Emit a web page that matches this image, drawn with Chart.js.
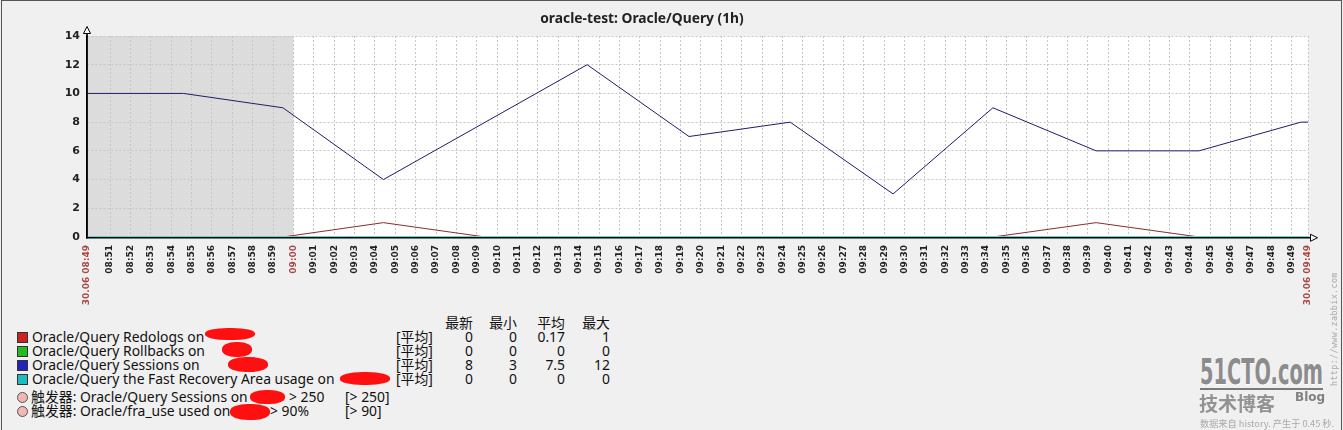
<!DOCTYPE html>
<html>
<head>
<meta charset="utf-8">
<script src="https://cdn.jsdelivr.net/npm/chart.js@4/dist/chart.umd.min.js"></script>
<style>
  body { margin: 0; background: #f0f0f0; }
  #wrap { position: relative; width: 1343px; height: 430px; overflow: hidden; background: #f0f0f0;
          font-family: "Noto Sans", "Noto Sans CJK SC", sans-serif; color: #111; }
  #frame { position: absolute; left: 1px; top: 0; width: 1339px; height: 440px; border: 1px solid #555; }
  #c { position: absolute; left: 0; top: 0; }
  .title { position: absolute; top: 8px; left: 0; width: 1284px; text-align: center; font-weight: bold; font-size: 13.8px; color: #222; }
  .row { position: absolute; height: 16px; line-height: 16px; font-size: 13.9px; white-space: nowrap; }
  .num { text-align: right; }
  .sq { position: absolute; width: 9px; height: 9px; border: 1px solid #333; }
  .dot { position: absolute; width: 9px; height: 9px; border: 1px solid #555; border-radius: 50%; background: #f2b6b6; }
  .blot { position: absolute; background: #ff1010; border-radius: 45%; }
  .zbx { position: absolute; left: 1279px; top: 326px; width: 110px; transform: rotate(-90deg); font: 8.5px "DejaVu Sans Mono", monospace; color: #aaa; letter-spacing: 0.3px; text-align: center; }
  .logo { position: absolute; left: 1200px; top: 354px; font: bold 36px "DejaVu Sans Condensed", "DejaVu Sans", sans-serif; color: #8c8c8c; transform-origin: left top; text-shadow: 1px 1px 0 #fff; white-space: nowrap; line-height: 36px; }
  .bar { position: absolute; left: 1200px; top: 388px; width: 123px; height: 2px; background: #7a7a7a; }
  .cn { position: absolute; left: 1199px; top: 389px; font: bold 19px "Noto Sans CJK SC", sans-serif; color: #929292; }
  .blog { position: absolute; left: 1295px; top: 390px; font: bold 12px "DejaVu Sans", sans-serif; color: #808080; }
  .foot { position: absolute; left: 1200px; top: 416px; font: 9.2px "Noto Sans CJK SC", sans-serif; color: #aaa; white-space: nowrap; }
</style>
</head>
<body>
<div id="wrap">
  <canvas id="c" width="1343" height="312"></canvas>
  <div class="title" id="title"></div>
  <div id="legend"></div>
  <div class="zbx">http://www.zabbix.com</div>
  <div class="logo" id="logo">51CTO.com</div>
  <div class="bar"></div>
  <div class="cn">技术博客</div>
  <div class="blog">Blog</div>
  <div class="foot">数据来自 history. 产生于 0.45 秒.</div>
  <div id="frame"></div>
</div>
<script>
// ---- data ----
const chartTitle = 'oracle-test: Oracle/Query (1h)';
const axisStart = '08:49:52';
const axisEnd = '09:49:48';
const shadeEnd = '09:00:00';
const edgeLabels = ['30.06 08:49', '30.06 09:49'];

const sampleTimes = ['08:49:27', '08:54:36', '08:59:29', '09:04:25', '09:09:25', '09:14:25', '09:19:25',
                     '09:24:23', '09:29:26', '09:34:20', '09:39:24', '09:44:27', '09:49:27', '09:49:52'];
const redologs  = [0, 0, 0, 1, 0, 0, 0, 0, 0, 0, 1, 0, 0, 0];
const rollbacks = [0, 0, 0, 0, 0, 0, 0, 0, 0, 0, 0, 0, 0, 0];
const sessions  = [10, 10, 9, 4, 8, 12, 7, 8, 3, 9, 6, 6, 8, 8];
const fraUsage  = [0, 0, 0, 0, 0, 0, 0, 0, 0, 0, 0, 0, 0, 0];

const seriesNames = ['Oracle/Query Redologs on', 'Oracle/Query Rollbacks on', 'Oracle/Query Sessions on',
                     'Oracle/Query the Fast Recovery Area usage on'];
const statHeaders = ['最新', '最小', '平均', '最大'];
const statLast = ['0', '0', '8', '0'];
const statMin  = ['0', '0', '3', '0'];
const statAvg  = ['0.17', '0', '7.5', '0'];
const statMax  = ['1', '0', '12', '0'];
const triggerNames = ['触发器: Oracle/Query Sessions on', '触发器: Oracle/fra_use used on'];
const triggerExpr  = ['> 250', '> 90%'];
const triggerLimit = ['[> 250]', '[> 90]'];

// ---- helpers ----
function toMin(t) {
  const [h, m, s] = t.split(':').map(Number);
  return (h * 60 + m + s / 60) - (8 * 60 + 49);
}
function fmtMin(v) {
  const total = 8 * 60 + 49 + Math.round(v);
  const h = Math.floor(total / 60), m = total % 60;
  return String(h).padStart(2, '0') + ':' + String(m).padStart(2, '0');
}
const xMin = toMin(axisStart), xMax = toMin(axisEnd), xHour = toMin(shadeEnd);
const pts = (vals) => sampleTimes.map((t, i) => ({ x: toMin(t), y: vals[i] }));
const red = '#a84646';

document.getElementById('title').textContent = chartTitle;

// squeeze the watermark logo to its width in the picture
const logo = document.getElementById('logo');
logo.style.transform = 'scaleX(' + (123 / logo.getBoundingClientRect().width) + ')';

const framePlugin = {
  id: 'frame',
  beforeDraw(chart) {
    const { ctx, chartArea: a, scales: { x } } = chart;
    ctx.save();
    ctx.fillStyle = '#ffffff';
    ctx.fillRect(a.left, a.top, a.right - a.left, a.bottom - a.top);
    ctx.fillStyle = '#dcdcdc';
    ctx.fillRect(a.left, a.top, x.getPixelForValue(xHour) - a.left, a.bottom - a.top);
    ctx.restore();
  },
  afterDraw(chart) {
    const { ctx, chartArea: a } = chart;
    const yb = Math.round(a.bottom) + 0.75;
    ctx.save();
    ctx.strokeStyle = '#000';
    ctx.lineWidth = 1.5;
    ctx.beginPath();
    ctx.moveTo(a.left, a.top - 3); ctx.lineTo(a.left, yb + 1);
    ctx.moveTo(a.left - 1, yb); ctx.lineTo(a.right + 3, yb);
    ctx.stroke();
    ctx.lineWidth = 1;
    ctx.fillStyle = '#fff';
    ctx.beginPath();
    ctx.moveTo(a.left - 3.5, a.top - 2.5); ctx.lineTo(a.left + 3.5, a.top - 2.5); ctx.lineTo(a.left, a.top - 9.5); ctx.closePath();
    ctx.fill(); ctx.stroke();
    ctx.beginPath();
    ctx.moveTo(a.right + 2.5, yb - 3.5); ctx.lineTo(a.right + 2.5, yb + 3.5); ctx.lineTo(a.right + 9.5, yb); ctx.closePath();
    ctx.fill(); ctx.stroke();
    ctx.restore();
  }
};

const line = (vals, color, order, width) => ({
  data: pts(vals), borderColor: color, borderWidth: width || 1, pointRadius: 0, tension: 0, fill: false, order
});

new Chart(document.getElementById('c'), {
  type: 'line',
  data: {
    datasets: [
      line(redologs, '#8c2c2c', 1),
      line(rollbacks, '#22aa22', 3),
      line(sessions, '#1e1e6c', 2),
      line(fraUsage, '#5fd6d6', 0, 2),
    ],
  },
  options: {
    responsive: false,
    animation: false,
    events: [],
    layout: { padding: { top: 36, right: 35, left: 0, bottom: 0 } },
    plugins: { legend: { display: false }, tooltip: { enabled: false } },
    scales: {
      x: {
        type: 'linear',
        min: xMin,
        max: xMax,
        afterBuildTicks: (s) => {
          const t = [{ value: xMin }];
          for (let m = 2; m <= 60; m++) t.push({ value: m });
          t.push({ value: xMax });
          s.ticks = t;
        },
        afterFit: (s) => { s.height = 75; },
        grid: { color: '#c6c6c6', lineWidth: 1, drawTicks: false },
        border: { color: '#000', width: 1, dash: [2, 2] },
        ticks: {
          autoSkip: false,
          minRotation: 90,
          maxRotation: 90,
          padding: 8,
          font: { family: 'DejaVu Sans', size: 9, weight: 'bold' },
          color: (c) => (c.tick && (c.tick.value === xMin || c.tick.value === xMax || c.tick.value === xHour)) ? red : '#222',
          callback: (v) => v === xMin ? edgeLabels[0] : (v === xMax ? edgeLabels[1] : fmtMin(v)),
        },
      },
      y: {
        min: 0,
        max: 14,
        afterFit: (s) => { s.width = 87; },
        grid: { color: '#c6c6c6', lineWidth: 1, drawTicks: false },
        border: { color: '#000', width: 1.5, dash: [2, 2] },
        ticks: {
          stepSize: 1,
          padding: 7,
          font: { family: 'DejaVu Sans', size: 11, weight: 'bold' },
          color: '#222',
          callback: (v) => (v % 2 === 0 ? v : ''),
        },
      },
    },
  },
  plugins: [framePlugin],
});

// ---- legend (html text) ----
const legend = document.getElementById('legend');
const swatch = ['#cc2222', '#22bb22', '#2222bb', '#22bbbb'];
const colRight = [473, 517, 565, 610];
const blots = [[205, 328, 50, 12], [222, 342, 30, 15], [228, 357, 40, 15], [340, 372, 50, 13]];
const tblots = [[250, 390, 35, 14], [230, 404, 40, 16]];
function put(html, left, cy, extra) {
  const d = document.createElement('div');
  d.className = 'row' + (extra ? ' ' + extra : '');
  d.style.left = left + 'px';
  d.style.top = (cy - 8) + 'px';
  d.innerHTML = html;
  legend.appendChild(d);
  return d;
}
function putRight(text, right, cy) {
  const d = put(text, right - 60, cy, 'num');
  d.style.width = '60px';
}
statHeaders.forEach((h, j) => putRight(h, colRight[j], 323));
seriesNames.forEach((n, i) => {
  const cy = 337 + i * 14;
  const s = document.createElement('div');
  s.className = 'sq';
  s.style.left = '17px'; s.style.top = (cy - 5) + 'px'; s.style.background = swatch[i];
  legend.appendChild(s);
  put(n, 32, cy);
  put('[平均]', 396, cy);
  [statLast, statMin, statAvg, statMax].forEach((col, j) => putRight(col[i], colRight[j], cy));
  const b = document.createElement('div');
  b.className = 'blot';
  b.style.cssText = `left:${blots[i][0]}px;top:${blots[i][1]}px;width:${blots[i][2]}px;height:${blots[i][3]}px;`;
  legend.appendChild(b);
});
triggerNames.forEach((n, i) => {
  const cy = 397 + i * 14;
  const c = document.createElement('div');
  c.className = 'dot';
  c.style.left = '17px'; c.style.top = (cy - 5) + 'px';
  legend.appendChild(c);
  put(n, 31, cy);
  put(triggerExpr[i], i === 0 ? 289 : 270, cy);
  put(triggerLimit[i], 345, cy);
  const b = document.createElement('div');
  b.className = 'blot';
  b.style.cssText = `left:${tblots[i][0]}px;top:${tblots[i][1]}px;width:${tblots[i][2]}px;height:${tblots[i][3]}px;`;
  legend.appendChild(b);
});
</script>
</body>
</html>
